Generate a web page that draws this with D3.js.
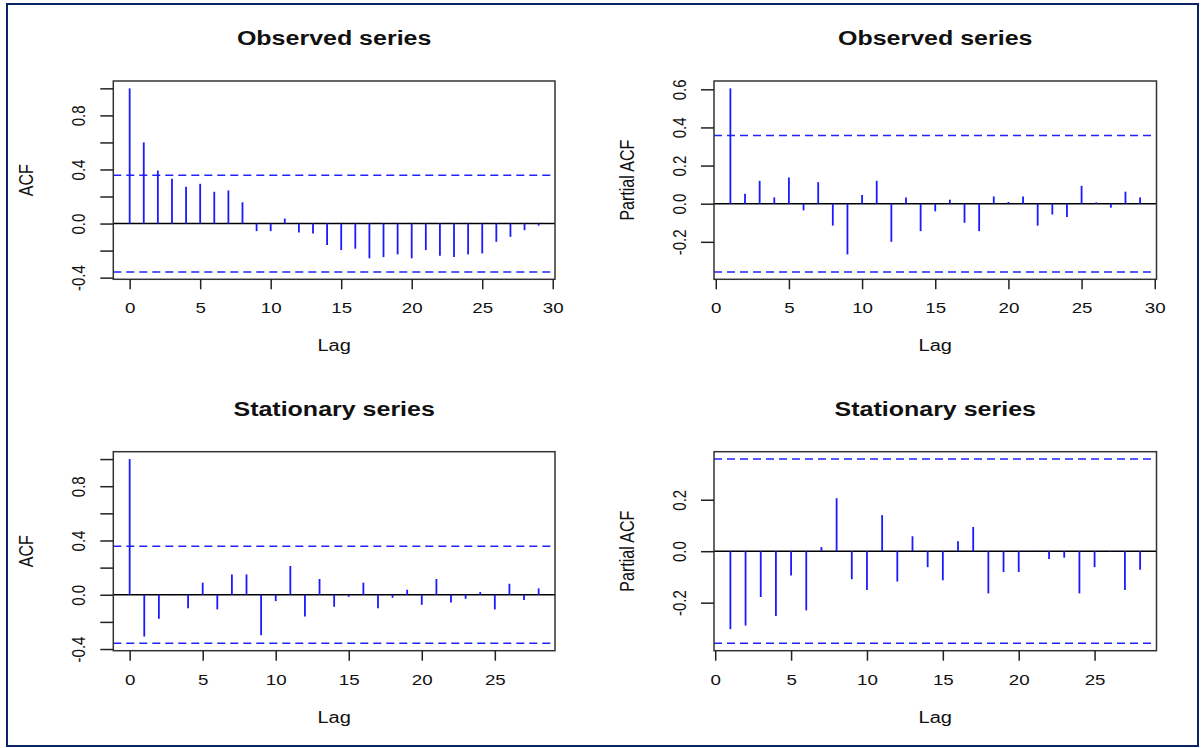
<!DOCTYPE html>
<html>
<head>
<meta charset="utf-8">
<script src="https://cdn.jsdelivr.net/npm/d3@7"></script>
<style>
  body { margin: 0; background: #fff; }
  svg { display: block; font-family: "Liberation Sans", Arial, sans-serif; }
</style>
</head>
<body>
<svg width="1204" height="748"></svg>
<script>
// lags
var acfLags = [0, 1, 2, 3, 4, 5, 6, 7, 8, 9, 10, 11, 12, 13, 14, 15, 16, 17, 18, 19, 20, 21, 22, 23, 24, 25, 26, 27, 28, 29];
var statLags = [0, 1, 2, 3, 4, 5, 6, 7, 8, 9, 10, 11, 12, 13, 14, 15, 16, 17, 18, 19, 20, 21, 22, 23, 24, 25, 26, 27, 28];

// observed series
var obsAcf = [1.0, 0.60, 0.392, 0.331, 0.272, 0.294, 0.235, 0.245, 0.157, -0.056, -0.056, 0.037, -0.066, -0.074, -0.159,
  -0.196, -0.186, -0.257, -0.248, -0.228, -0.257, -0.196, -0.238, -0.248, -0.228, -0.221, -0.135, -0.098, -0.049, -0.015];
var obsPacf = [0.605, 0.052, 0.12, 0.033, 0.137, -0.035, 0.113, -0.115, -0.266, 0.045, 0.12, -0.2, 0.033, -0.144,
  -0.04, 0.021, -0.10, -0.144, 0.038, 0.009, 0.038, -0.115, -0.057, -0.07, 0.094, 0.007, -0.021, 0.063, 0.033];

// stationary series
var statAcf = [1.0, -0.308, -0.177, -0.004, -0.10, 0.089, -0.108, 0.15, 0.15, -0.298, -0.047, 0.212, -0.16, 0.116, -0.089,
  -0.015, 0.089, -0.10, -0.022, 0.037, -0.074, 0.116, -0.057, -0.03, 0.02, -0.108, 0.081, -0.039, 0.047];
var statPacf = [-0.303, -0.289, -0.178, -0.252, -0.094, -0.23, 0.016, 0.206, -0.109, -0.151, 0.14, -0.118, 0.058, -0.062,
  -0.113, 0.039, 0.094, -0.164, -0.081, -0.081, 0.002, -0.03, -0.025, -0.164, -0.062, -0.002, -0.151, -0.072];

var ciLevel = 0.358; // 1.96/sqrt(n), n = 30

var xTicksLong = [0, 5, 10, 15, 20, 25, 30];
var xTicksShort = [0, 5, 10, 15, 20, 25];

var panels = [
  { title: "Observed series", ylab: "ACF", lags: acfLags, values: obsAcf, col: 0, row: 0,
    xTicks: xTicksLong, yTicks: [-0.4, -0.2, 0, 0.2, 0.4, 0.6, 0.8, 1.0], yLabels: [-0.4, 0, 0.4, 0.8] },
  { title: "Observed series", ylab: "Partial ACF", lags: acfLags.slice(1), values: obsPacf, col: 1, row: 0,
    xTicks: xTicksLong, yTicks: [-0.2, 0, 0.2, 0.4, 0.6], yLabels: [-0.2, 0, 0.2, 0.4, 0.6] },
  { title: "Stationary series", ylab: "ACF", lags: statLags, values: statAcf, col: 0, row: 1,
    xTicks: xTicksShort, yTicks: [-0.4, -0.2, 0, 0.2, 0.4, 0.6, 0.8, 1.0], yLabels: [-0.4, 0, 0.4, 0.8] },
  { title: "Stationary series", ylab: "Partial ACF", lags: statLags.slice(1), values: statPacf, col: 1, row: 1,
    xTicks: xTicksShort, yTicks: [-0.2, 0, 0.2], yLabels: [-0.2, 0, 0.2] }
];

var svg = d3.select("svg");

var cols = [{ left: 113.3, right: 555 }, { left: 714, right: 1156.5 }],
    rows = [{ top: 81, bottom: 279.3 }, { top: 451.7, bottom: 650.7 }];

var sx = 1.25; // text is a bit wide in the original
var fmt = function(v) { return Math.abs(v) < 1e-9 ? "0.0" : v.toFixed(1); };

// outer frame
svg.append("rect")
  .attr("x", 7).attr("y", 4)
  .attr("width", 1191).attr("height", 742)
  .attr("fill", "none")
  .attr("stroke", "#0b2463")
  .attr("stroke-width", 2);

panels.forEach(function(p) {
  var c = cols[p.col], r = rows[p.row];
  var w = c.right - c.left, h = r.bottom - r.top;

  // R style 4% expansion
  var lx = d3.min(p.lags), hx = d3.max(p.lags), ex = (hx - lx) * 0.04;
  var ly = Math.min(-ciLevel, d3.min(p.values)), hy = Math.max(ciLevel, d3.max(p.values)), ey = (hy - ly) * 0.04;

  var x = d3.scaleLinear().domain([lx - ex, hx + ex]).range([0, w]);
  var y = d3.scaleLinear().domain([ly - ey, hy + ey]).range([h, 0]);

  var g = svg.append("g").attr("transform", "translate(" + c.left + "," + r.top + ")");

  // title
  g.append("text")
    .attr("transform", "translate(" + (w / 2) + ",-36) scale(" + sx + ",1)")
    .attr("text-anchor", "middle")
    .attr("font-size", 20)
    .attr("font-weight", "bold")
    .attr("fill", "#111")
    .text(p.title);

  // zero line
  g.append("line")
    .attr("x1", 0).attr("x2", w)
    .attr("y1", y(0)).attr("y2", y(0))
    .attr("stroke", "#000")
    .attr("stroke-width", 1.5);

  // confidence bounds
  g.selectAll(".ci")
    .data([ciLevel, -ciLevel])
    .enter().append("line")
    .attr("class", "ci")
    .attr("x1", 0).attr("x2", w)
    .attr("y1", function(d) { return y(d); })
    .attr("y2", function(d) { return y(d); })
    .attr("stroke", "#2222ff")
    .attr("stroke-width", 1.5)
    .attr("stroke-dasharray", "8,5");

  // spikes
  g.selectAll(".bar")
    .data(p.values)
    .enter().append("line")
    .attr("class", "bar")
    .attr("x1", function(d, i) { return x(p.lags[i]); })
    .attr("x2", function(d, i) { return x(p.lags[i]); })
    .attr("y1", y(0))
    .attr("y2", function(d) { return y(d); })
    .attr("stroke", "#1a1aff")
    .attr("stroke-width", 1.8);

  // box
  g.append("rect")
    .attr("width", w).attr("height", h)
    .attr("fill", "none")
    .attr("stroke", "#333")
    .attr("stroke-width", 1.5);

  // x axis
  var xa = g.append("g")
    .attr("transform", "translate(0," + h + ")")
    .call(d3.axisBottom(x).tickValues(p.xTicks).tickSize(10).tickSizeOuter(0).tickFormat(d3.format("d")));
  xa.select(".domain").remove();
  xa.selectAll("line").attr("stroke", "#222").attr("stroke-width", 1.5);
  xa.selectAll("text")
    .attr("y", null).attr("dy", null)
    .attr("transform", "translate(0,34) scale(" + sx + ",1)")
    .attr("font-size", 15)
    .attr("fill", "#111");

  // y axis
  var ya = g.append("g")
    .call(d3.axisLeft(y).tickValues(p.yTicks).tickSize(13).tickSizeOuter(0)
      .tickFormat(function(v) {
        return p.yLabels.some(function(l) { return Math.abs(l - v) < 1e-9; }) ? fmt(v) : "";
      }));
  ya.select(".domain").remove();
  ya.selectAll("line").attr("stroke", "#222").attr("stroke-width", 1.5);
  ya.selectAll("text")
    .attr("x", null).attr("dy", null)
    .attr("transform", "translate(-28,0) scale(" + sx + ",1) rotate(-90)")
    .attr("text-anchor", "middle")
    .attr("font-size", 15)
    .attr("fill", "#111");

  // axis titles
  g.append("text")
    .attr("transform", "translate(" + (w / 2) + "," + (h + 72) + ") scale(" + sx + ",1)")
    .attr("text-anchor", "middle")
    .attr("font-size", 16)
    .attr("fill", "#111")
    .text("Lag");

  g.append("text")
    .attr("transform", "translate(-80," + (h / 2) + ") scale(" + sx + ",1) rotate(-90)")
    .attr("text-anchor", "middle")
    .attr("font-size", 16)
    .attr("fill", "#111")
    .text(p.ylab);
});
</script>
</body>
</html>
